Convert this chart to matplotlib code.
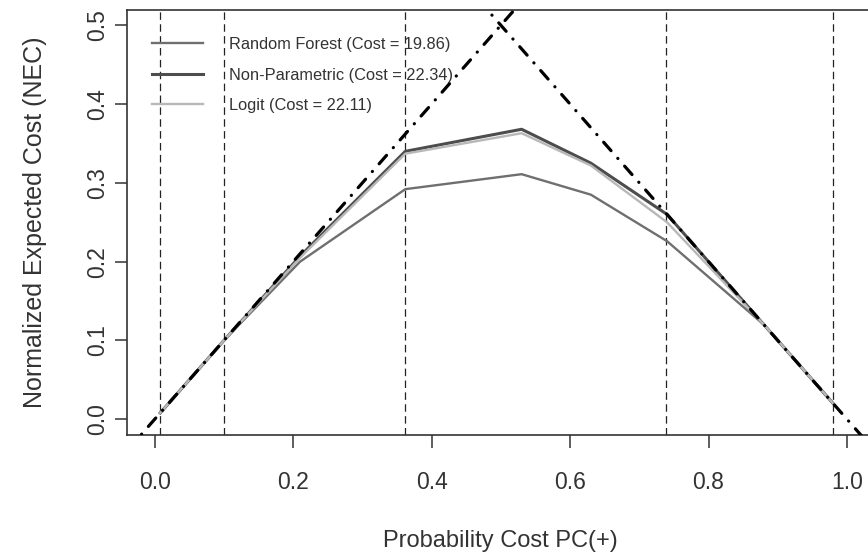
import numpy as np
import matplotlib
matplotlib.use("Agg")
import matplotlib.pyplot as plt

plt.rcParams['font.family'] = ['Liberation Sans', 'DejaVu Sans']

# cost curves (lower envelopes) per model
pc_rf = [0.008, 0.10, 0.21, 0.362, 0.53, 0.63, 0.74, 0.88, 0.98]
nec_rf = [0.008, 0.10, 0.20, 0.292, 0.311, 0.285, 0.226, 0.12, 0.02]

pc_np = [0.008, 0.10, 0.21, 0.362, 0.53, 0.63, 0.74, 0.98]
nec_np = [0.008, 0.10, 0.207, 0.340, 0.368, 0.325, 0.260, 0.02]

pc_logit = [0.008, 0.10, 0.21, 0.362, 0.53, 0.63, 0.74, 0.88, 0.98]
nec_logit = [0.008, 0.10, 0.205, 0.337, 0.363, 0.322, 0.250, 0.12, 0.02]

labels = ["Random Forest (Cost = 19.86)",
          "Non-Parametric (Cost = 22.34)",
          "Logit (Cost = 22.11)"]

# operating points marked with vertical lines
pc_marks = [0.008, 0.10, 0.362, 0.738, 0.98]

xticks = [0.0, 0.2, 0.4, 0.6, 0.8, 1.0]
yticks = [0.0, 0.1, 0.2, 0.3, 0.4, 0.5]

fig = plt.figure(figsize=(8.68, 5.59), dpi=100)
ax = fig.add_axes([127/868, 124/559, 747.7/868, 425.5/559])
ax.set_xlim(-0.04, 1.04)
ax.set_ylim(-0.02, 0.52)

for xv in pc_marks:
    ax.axvline(xv, color='#222222', lw=0.9, ls=(0, (6, 3.5)), zorder=1)

l1, = ax.plot(pc_rf, nec_rf, color='#6f6f6f', lw=1.7, zorder=3)
l2, = ax.plot(pc_np, nec_np, color='#4d4d4d', lw=2.2, zorder=3)
l3, = ax.plot(pc_logit, nec_logit, color='#b8b8b8', lw=1.7, zorder=4)

# trivial classifiers: always negative / always positive
xx = np.array([-0.1, 1.1])
dd = (0, (3.5, 3.2, 0.05, 3.2))
ax.plot(xx, xx, color='black', lw=2.3, ls=dd, dash_capstyle='round', zorder=5)
ax.plot(xx, 1 - xx, color='black', lw=2.3, ls=dd, dash_capstyle='round', zorder=5)

ax.set_xticks(xticks)
ax.set_xticklabels(["%.1f" % v for v in xticks])
ax.set_yticks(yticks)
ax.set_yticklabels(["%.1f" % v for v in yticks], rotation=90, va='center')
ax.tick_params(axis='x', length=9, width=1.1, pad=17, labelsize=16.5,
               labelcolor='#333333', color='#333333')
ax.tick_params(axis='y', length=9, width=1.1, pad=4, labelsize=16.5,
               labelcolor='#333333', color='#333333')
for s in ax.spines.values():
    s.set_linewidth(1.2)
    s.set_color('#333333')

ax.set_xlabel("Probability Cost PC(+)", fontsize=17, color='#333333', labelpad=26)
ax.set_ylabel("Normalized Expected Cost (NEC)", fontsize=18, color='#333333', labelpad=28)

ax.legend([l1, l2, l3], labels, loc='upper left',
          bbox_to_anchor=(152/868, 1 - 37/559), bbox_transform=fig.transFigure,
          frameon=False, fontsize=11.8, handlelength=3.1, handletextpad=1.6,
          labelspacing=0.95, borderpad=0, borderaxespad=0, labelcolor='#333333')

fig.savefig("out.png", dpi=100)
